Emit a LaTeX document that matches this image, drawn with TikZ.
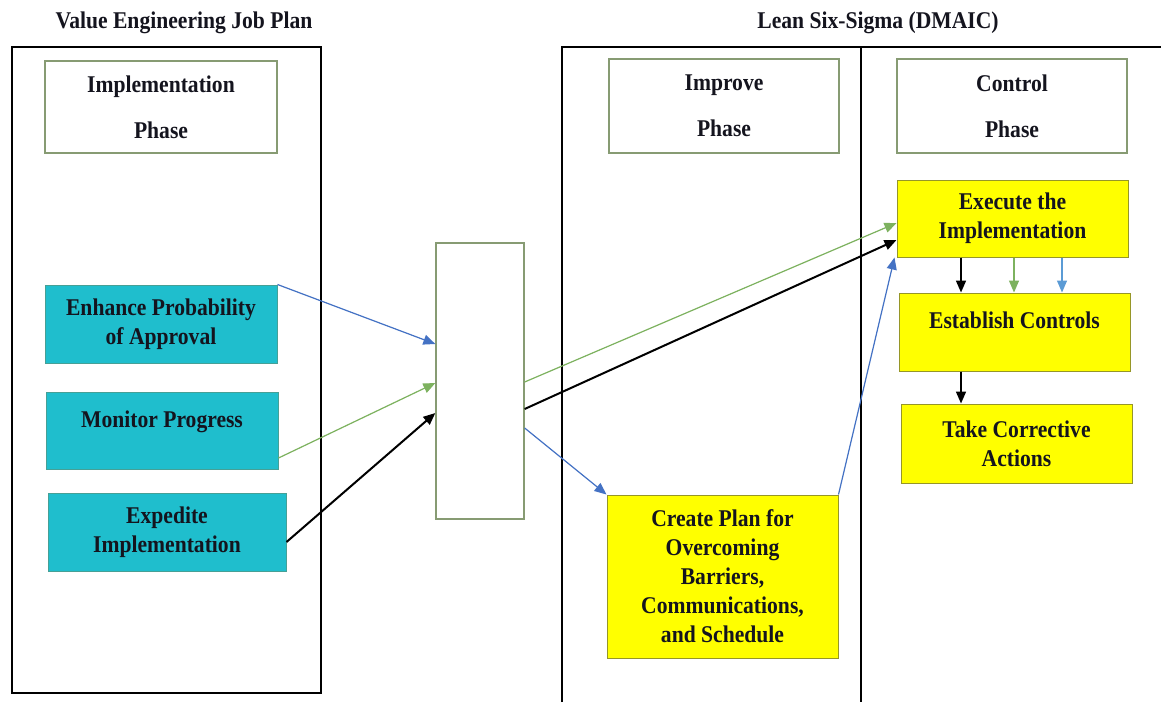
\documentclass[tikz,border=0pt]{standalone}
\usepackage{fontspec}
\newfontfamily\vefont[FakeStretch=0.9]{Liberation Serif}
\usetikzlibrary{arrows.meta}
\definecolor{boxcyan}{RGB}{31,190,205}
\definecolor{cyanedge}{RGB}{70,160,150}
\definecolor{boxyellow}{RGB}{255,255,0}
\definecolor{yellowedge}{RGB}{150,150,40}
\definecolor{phaseedge}{RGB}{135,155,115}
\definecolor{txt}{RGB}{20,20,30}
\definecolor{arrblue}{RGB}{68,114,196}
\definecolor{arrlblue}{RGB}{91,155,213}
\definecolor{arrgreen}{RGB}{125,178,95}
\tikzset{
  lbl/.style={font=\vefont\bfseries\fontsize{24}{29}\selectfont, text=txt, align=center, inner sep=0pt},
  phasebox/.style={lbl, draw=phaseedge, line width=1.3pt, font=\vefont\bfseries\fontsize{24}{46}\selectfont},
  cyanbox/.style={lbl, fill=boxcyan, draw=cyanedge, line width=1pt},
  yellowbox/.style={lbl, fill=boxyellow, draw=yellowedge, line width=1pt},
  emptybox/.style={draw=phaseedge, line width=1.3pt, inner sep=0pt},
  frame/.style={draw=black, line width=1.8pt},
  tip/.style={-{Triangle[length=12pt,width=10pt]}},
  thinarrow/.style={tip, line width=1.2pt},
  thickarrow/.style={tip, line width=2pt, draw=black}
}
\begin{document}
\begin{tikzpicture}[x=1pt,y=-1pt]
\useasboundingbox (0,0) rectangle (1161,702);
\fill[white] (0,0) rectangle (1161,702);

% headings
\node[lbl] (vetitle) at (184,23) {Value Engineering Job Plan};
\node[lbl] (lsstitle) at (878,23) {Lean Six-Sigma (DMAIC)};

% outer frames
\draw[frame] (12,47) rectangle (321,693);
\draw[frame] (562,702) -- (562,47) -- (1161,47);
\draw[frame] (861,47) -- (861,702);

% phase headers
\node[phasebox, minimum width=232pt, minimum height=92pt] (impl) at (161,107) {Implementation\\Phase};
\node[phasebox, minimum width=230pt, minimum height=94pt] (impr) at (724,106) {Improve\\Phase};
\node[phasebox, minimum width=230pt, minimum height=94pt] (ctrl) at (1012,106) {Control\\Phase};

% value engineering activities
\node[cyanbox, minimum width=232pt, minimum height=78pt] (enh) at (161,324) {Enhance Probability\\of Approval};
\node[cyanbox, minimum width=232pt, minimum height=77pt] (mon) at (162,430.5) {Monitor Progress\\[-6pt]\mbox{}};
\node[cyanbox, minimum width=238pt, minimum height=78pt] (expd) at (167,532) {Expedite\\Implementation};

% hub
\node[emptybox, minimum width=88pt, minimum height=276pt] (hub) at (480,381) {};

% DMAIC activities
\node[yellowbox, minimum width=231pt, minimum height=163pt] (plan) at (722.5,576.5) {Create Plan for\\Overcoming\\Barriers,\\Communications,\\and Schedule};
\node[yellowbox, minimum width=231pt, minimum height=77pt] (exec) at (1012.5,218.5) {Execute the\\Implementation};
\node[yellowbox, minimum width=231pt, minimum height=78pt] (estb) at (1014.5,332) {Establish Controls\\[-6pt]\mbox{}};
\node[yellowbox, minimum width=231pt, minimum height=79pt] (take) at (1016.5,443.5) {Take Corrective\\Actions};

% into the hub
\draw[thinarrow, draw=arrblue, fill=arrblue] (enh.north east) -- ([yshift=37pt]hub.west);
\draw[thinarrow, draw=arrgreen, fill=arrgreen] ([yshift=-27.5pt]mon.east) -- ([yshift=-2pt]hub.west);
\draw[thickarrow, fill=black] ([yshift=-10pt]expd.east) -- ([yshift=-32pt]hub.west);

% out of the hub
\draw[thinarrow, draw=arrgreen, fill=arrgreen] ([yshift=-1pt]hub.east) -- ([yshift=-4.5pt]exec.west);
\draw[thickarrow, fill=black] ([yshift=-28pt]hub.east) -- ([yshift=-21.5pt]exec.west);
\draw[thinarrow, draw=arrblue, fill=arrblue] ([yshift=-47pt]hub.east) -- (plan.north west);
\draw[thinarrow, draw=arrblue, fill=arrblue] (plan.north east) -- ([xshift=-2pt]exec.south west);

% control chain
\draw[thickarrow, line width=1.6pt, fill=black] ([xshift=-51.5pt]exec.south) -- ([xshift=-51.5pt]exec.south |- estb.north);
\draw[thinarrow, draw=arrgreen, fill=arrgreen] ([xshift=1.5pt]exec.south) -- ([xshift=1.5pt]exec.south |- estb.north);
\draw[thinarrow, draw=arrlblue, fill=arrlblue] ([xshift=49.5pt]exec.south) -- ([xshift=49.5pt]exec.south |- estb.north);
\draw[thickarrow, line width=1.6pt, fill=black] ([xshift=-51.5pt]exec.south |- estb.south) -- ([xshift=-51.5pt]exec.south |- take.north);
\end{tikzpicture}
\end{document}
